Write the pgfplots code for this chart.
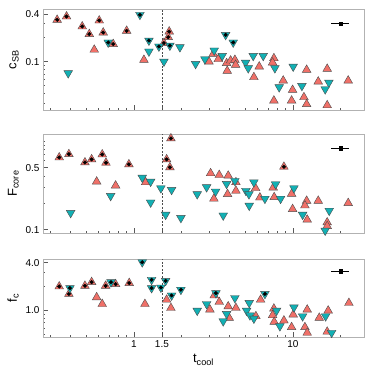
\documentclass[border=0pt]{standalone}
\usepackage{fontspec}
\setmainfont{Liberation Sans}
\usepackage{pgfplots}
\pgfplotsset{compat=1.18}
\definecolor{redtri}{RGB}{240,112,104}
\definecolor{cyantri}{RGB}{18,176,180}
\definecolor{framegray}{RGB}{178,178,178}

\begin{document}
\begin{tikzpicture}
\path[use as bounding box] (0,0) rectangle (374pt,-374pt);

% ---- c_SB ----
\begin{axis}[scale only axis, width=321pt, height=101pt,
  at={(43pt,-110pt)}, anchor=south west,
  xmode=log, ymode=log, xmin=0.268, xmax=28, ymin=0.0245, ymax=0.46,
  axis line style={framegray, line width=0.8pt},
  tick pos=left, tick align=inside,
  major tick length=5pt, minor tick length=2.5pt,
  tick style={black!65, line width=0.6pt},
  xtick={1,1.5,10}, xticklabels={},
  minor xtick={0.3,0.4,0.5,0.6,0.7,0.8,0.9,2,3,4,5,6,7,8,9,20},
  ytick={0.1,0.4}, yticklabels={0.1,0.4},
  minor ytick={0.03,0.04,0.05,0.06,0.07,0.08,0.09,0.2,0.3},
  yticklabel style={font=\fontsize{10}{12}\selectfont},
  ylabel style={font=\fontsize{13}{15}\selectfont},
  ylabel={c\textsubscript{SB}}]
\draw[black!70, line width=0.5pt, dash pattern=on 2pt off 1.5pt]
  (axis cs:1.5,0.0245) -- (axis cs:1.5,0.46);
\addplot[only marks, mark=triangle*, mark size=5pt,
  mark options={fill=redtri, draw=black!70, line width=0.4pt}] coordinates {
 (0.563,0.141) (1.156,0.105) (2.963,0.100) (3.153,0.125) (3.390,0.107)
 (3.828,0.0954) (4.057,0.103) (4.317,0.105) (4.361,0.0908) (3.862,0.0763)
 (6.138,0.0865) (5.684,0.0635) (7.593,0.110) (7.451,0.0971) (12.20,0.0786)
 (16.43,0.0809) (8.690,0.0575) (9.956,0.0439) (14.43,0.0559) (22.27,0.0575)
 (11.73,0.0355) (12.20,0.0290) (7.593,0.0322) (9.813,0.0322) (16.43,0.0281)};
\addplot[only marks, mark=triangle*, mark size=5pt,
  mark options={fill=cyantri, draw=black!70, line width=0.4pt, rotate=180}] coordinates {
 (0.386,0.0714) (1.243,0.134) (1.544,0.100) (1.947,0.152) (2.443,0.0935)
 (2.796,0.107) (3.199,0.138) (3.592,0.118) (5.041,0.0971) (5.236,0.0825)
 (5.627,0.118) (6.504,0.118) (7.703,0.0825) (10.04,0.0865) (8.197,0.0475)
 (11.39,0.0493) (16.84,0.0543) (15.96,0.0448)};
\addplot[only marks, mark=triangle*, mark size=5pt,
  mark options={fill=redtri, draw=black!70, line width=0.4pt}] coordinates {
 (0.329,0.336) (0.377,0.370) (0.473,0.277) (0.605,0.329) (0.524,0.222)
 (0.641,0.232) (0.741,0.166) (0.900,0.244) (1.544,0.171) (1.667,0.239) (1.644,0.203)};
\addplot[only marks, mark=*, mark size=1.8pt, mark options={fill=black, draw=black}] coordinates {
 (0.329,0.336) (0.377,0.370) (0.473,0.277) (0.605,0.329) (0.524,0.222)
 (0.641,0.232) (0.741,0.166) (0.900,0.244) (1.544,0.171) (1.667,0.239) (1.644,0.203)};
\addplot[only marks, mark=triangle*, mark size=5pt,
  mark options={fill=cyantri, draw=black!70, line width=0.4pt, rotate=180}] coordinates {
 (0.689,0.174) (1.091,0.389) (1.243,0.184) (1.436,0.155) (1.684,0.159)
 (3.774,0.217) (4.212,0.174)};
\addplot[only marks, mark=*, mark size=1.8pt, mark options={fill=black, draw=black}] coordinates {
 (0.689,0.174) (1.091,0.389) (1.243,0.184) (1.436,0.155) (1.684,0.159)
 (3.774,0.217) (4.212,0.174)};
\addplot[black, line width=1pt, forget plot] coordinates {(17.4,0.302) (22.6,0.302)};
\addplot[only marks, mark=square*, mark size=1.7pt, black] coordinates {(20,0.302)};
\end{axis}

% ---- F_core ----
\begin{axis}[scale only axis, width=321pt, height=99pt,
  at={(43pt,-233pt)}, anchor=south west,
  xmode=log, ymode=log, xmin=0.268, xmax=28, ymin=0.092, ymax=1.2,
  axis line style={framegray, line width=0.8pt},
  tick pos=left, tick align=inside,
  major tick length=5pt, minor tick length=2.5pt,
  tick style={black!65, line width=0.6pt},
  xtick={1,1.5,10}, xticklabels={},
  minor xtick={0.3,0.4,0.5,0.6,0.7,0.8,0.9,2,3,4,5,6,7,8,9,20},
  ytick={0.1,0.5}, yticklabels={0.1,0.5},
  minor ytick={0.2,0.3,0.4,0.6,0.7,0.8,0.9,1},
  yticklabel style={font=\fontsize{10}{12}\selectfont},
  ylabel style={font=\fontsize{13}{15}\selectfont},
  ylabel={F\textsubscript{core}}]
\draw[black!70, line width=0.5pt, dash pattern=on 2pt off 1.5pt]
  (axis cs:1.5,0.092) -- (axis cs:1.5,1.2);
\addplot[only marks, mark=triangle*, mark size=5pt,
  mark options={fill=redtri, draw=black!70, line width=0.4pt}] coordinates {
 (0.583,0.349) (0.767,0.315) (1.185,0.343) (3.036,0.433) (3.185,0.224)
 (3.440,0.414) (3.918,0.407) (4.380,0.343) (3.884,0.252) (4.380,0.275)
 (5.826,0.294) (6.200,0.231) (7.516,0.299) (7.626,0.233) (9.813,0.254)
 (9.956,0.171) (12.20,0.212) (11.90,0.188) (12.30,0.130) (14.43,0.212)
 (16.43,0.121) (16.43,0.110) (22.27,0.200)};
\addplot[only marks, mark=triangle*, mark size=5pt,
  mark options={fill=cyantri, draw=black!70, line width=0.4pt, rotate=180}] coordinates {
 (0.400,0.155) (0.714,0.241) (1.128,0.387) (1.274,0.349) (1.274,0.203)
 (1.478,0.294) (1.726,0.282) (1.583,0.148) (1.975,0.136) (2.501,0.252)
 (2.866,0.302) (3.265,0.270) (3.828,0.329) (4.317,0.355) (3.645,0.145)
 (5.063,0.275) (5.289,0.252) (5.312,0.187) (5.684,0.343) (6.667,0.224)
 (7.781,0.326) (8.366,0.224) (10.15,0.294) (11.51,0.148) (16.92,0.164) (15.96,0.098)};
\addplot[only marks, mark=triangle*, mark size=5pt,
  mark options={fill=redtri, draw=black!70, line width=0.4pt}] coordinates {
 (0.339,0.653) (0.390,0.711) (0.492,0.574) (0.542,0.621) (0.632,0.706)
 (0.667,0.569) (0.930,0.546) (1.709,1.07) (1.606,0.621) (1.684,0.505) (8.778,0.513)};
\addplot[only marks, mark=*, mark size=1.8pt, mark options={fill=black, draw=black}] coordinates {
 (0.339,0.653) (0.390,0.711) (0.492,0.574) (0.542,0.621) (0.632,0.706)
 (0.667,0.569) (0.930,0.546) (1.709,1.07) (1.606,0.621) (1.684,0.505) (8.778,0.513)};
\addplot[black, line width=1pt, forget plot] coordinates {(17.4,0.83) (22.6,0.83)};
\addplot[only marks, mark=square*, mark size=1.7pt, black] coordinates {(20,0.83)};
\end{axis}

% ---- f_c ----
\begin{axis}[scale only axis, width=321pt, height=78pt,
  at={(43pt,-337pt)}, anchor=south west,
  xmode=log, ymode=log, xmin=0.268, xmax=28, ymin=0.46, ymax=4.45,
  axis line style={framegray, line width=0.8pt},
  tick pos=left, tick align=inside,
  major tick length=5pt, minor tick length=2.5pt,
  tick style={black!65, line width=0.6pt},
  xtick={1,1.5,10}, xticklabels={1,1.5,10},
  minor xtick={0.3,0.4,0.5,0.6,0.7,0.8,0.9,2,3,4,5,6,7,8,9,20},
  ytick={1,4}, yticklabels={1.0,4.0},
  minor ytick={0.5,0.6,0.7,0.8,0.9,2,3},
  ticklabel style={font=\fontsize{10}{12}\selectfont},
  label style={font=\fontsize{13}{15}\selectfont},
  ylabel={f\textsubscript{c}}, xlabel={t\textsubscript{cool}}]
\draw[black!70, line width=0.5pt, dash pattern=on 2pt off 1.5pt]
  (axis cs:1.5,0.46) -- (axis cs:1.5,4.45);
\addplot[only marks, mark=triangle*, mark size=5pt,
  mark options={fill=redtri, draw=black!70, line width=0.4pt}] coordinates {
 (0.583,1.46) (0.632,1.20) (1.173,1.20) (1.606,1.36) (1.709,1.07)
 (3.006,1.02) (3.199,1.54) (3.440,1.275) (3.918,1.12) (4.380,1.07)
 (3.975,0.803) (5.851,0.841) (6.263,1.36) (7.593,1.05) (7.451,0.866)
 (7.626,0.715) (8.778,0.743) (9.813,0.612) (10.04,0.883) (12.30,1.02)
 (11.90,0.612) (12.30,0.520) (14.64,0.803) (16.67,0.991) (16.43,0.536) (22.50,1.238)};
\addplot[only marks, mark=triangle*, mark size=5pt,
  mark options={fill=cyantri, draw=black!70, line width=0.4pt, rotate=180}] coordinates {
 (2.501,0.991) (2.866,1.20) (4.317,1.43) (3.828,0.901) (3.645,0.728)
 (5.115,0.991) (5.312,1.24) (5.366,0.866) (5.684,0.787) (7.895,0.991)
 (8.281,0.630) (10.15,1.09) (11.51,0.841) (16.06,0.841) (17.52,0.520)};
\addplot[only marks, mark=triangle*, mark size=5pt,
  mark options={fill=redtri, draw=black!70, line width=0.4pt}] coordinates {
 (0.339,2.00) (0.390,1.61) (0.492,2.04) (0.542,2.27) (0.664,2.04)
 (0.767,2.14) (0.934,2.21)};
\addplot[only marks, mark=*, mark size=1.8pt, mark options={fill=black, draw=black}] coordinates {
 (0.339,2.00) (0.390,1.61) (0.492,2.04) (0.542,2.27) (0.664,2.04)
 (0.767,2.14) (0.934,2.21)};
\addplot[only marks, mark=triangle*, mark size=5pt,
  mark options={fill=cyantri, draw=black!70, line width=0.4pt, rotate=180}] coordinates {
 (0.396,1.91) (0.717,2.27) (1.128,4.05) (1.292,2.43) (1.292,1.91)
 (1.478,1.94) (1.583,2.36) (1.726,1.54) (1.975,1.82) (3.279,1.65) (6.667,1.61)};
\addplot[only marks, mark=*, mark size=1.8pt, mark options={fill=black, draw=black}] coordinates {
 (0.396,1.91) (0.717,2.27) (1.128,4.05) (1.292,2.43) (1.292,1.91)
 (1.478,1.94) (1.583,2.36) (1.726,1.54) (1.975,1.82) (3.279,1.65) (6.667,1.61)};
\addplot[black, line width=1pt, forget plot] coordinates {(17.4,3.12) (22.6,3.12)};
\addplot[black, line width=1pt, forget plot] coordinates {(20,2.92) (20,3.33)};
\addplot[only marks, mark=square*, mark size=1.7pt, black] coordinates {(20,3.12)};
\end{axis}
\end{tikzpicture}
\end{document}
